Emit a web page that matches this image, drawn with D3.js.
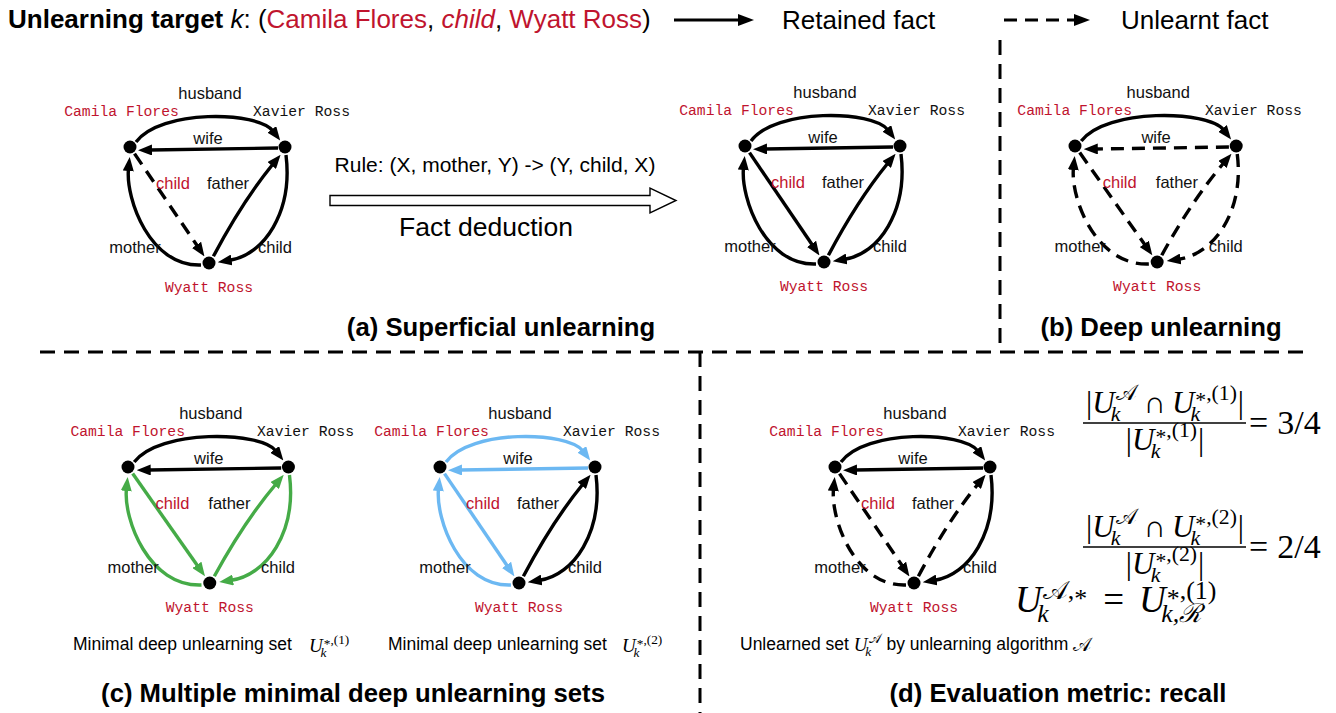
<!DOCTYPE html>
<html><head><meta charset="utf-8">
<script src="https://cdn.jsdelivr.net/npm/d3@7"></script>
<style>html,body{margin:0;padding:0;background:#fff}svg{display:block}text{white-space:pre}</style>
</head><body>
<svg id="c" width="1336" height="713"></svg>
<script>
// ---------------- data ----------------
const entities = ["Camila Flores", "Xavier Ross", "Wyatt Ross"];
const entityIsTarget = [true, false, true];
const relations = ["husband", "wife", "child", "father", "mother", "child"];
const relationIsTarget = [false, false, true, false, false, false];
const edgeSource = [0, 1, 0, 2, 2, 1];
const edgeTarget = [1, 0, 2, 1, 0, 2];
const targetTriple = ["Camila Flores", "child", "Wyatt Ross"];
// edge status per graph: R retained, U unlearnt, S1 / S2 members of minimal deep unlearning sets
const statusA1 = ["R", "R", "U", "R", "R", "R"];
const statusA2 = ["R", "R", "R", "R", "R", "R"];
const statusB  = ["R", "U", "U", "U", "U", "U"];
const statusC1 = ["R", "R", "S1", "S1", "S1", "S1"];
const statusC2 = ["S2", "S2", "S2", "R", "S2", "R"];
const statusD  = ["R", "R", "U", "U", "U", "R"];
const panelTitles = ["(a) Superficial unlearning", "(b) Deep unlearning", "(c) Multiple minimal deep unlearning sets", "(d) Evaluation metric: recall"];
const legendLabels = ["Retained fact", "Unlearnt fact"];
const ruleText = "Rule: (X, mother, Y) -> (Y, child, X)";
const deductionText = "Fact deduction";
const captionMinimal = "Minimal deep unlearning set";
const captionUnlearned = ["Unlearned set ", " by unlearning algorithm "];
const recallValues = ["3/4", "2/4"];
const setIndices = ["(1)", "(2)"];

// ---------------- style / layout ----------------
const svg = d3.select("#c");
const FS = "'Liberation Sans', Arial, Helvetica, sans-serif";
const MONO = "'Liberation Mono', 'Courier New', monospace";
const SERIF = "'Liberation Serif', 'Times New Roman', serif";
const RED = "#c0142e", GREEN = "#45ab47", BLUE = "#6cb8f2";
const statusColor = {R: "#000", U: "#000", S1: GREEN, S2: BLUE};
const statusMarker = {R: "k", U: "k", S1: "g", S2: "b"};

const defs = svg.append("defs");
[["k", "#000"], ["g", GREEN], ["b", BLUE]].forEach(([id, c]) => {
  defs.append("marker").attr("id", "ah-" + id).attr("viewBox", "0 0 14 11")
    .attr("refX", 2).attr("refY", 5.5).attr("markerWidth", 14).attr("markerHeight", 11)
    .attr("markerUnits", "userSpaceOnUse").attr("orient", "auto")
    .append("path").attr("d", "M0,0L14,5.5L0,11Z").attr("fill", c);
});
defs.append("marker").attr("id", "ah-leg").attr("viewBox", "0 0 16 12")
  .attr("refX", 2).attr("refY", 6).attr("markerWidth", 16).attr("markerHeight", 12)
  .attr("markerUnits", "userSpaceOnUse").attr("orient", "auto")
  .append("path").attr("d", "M0,0L16,6L0,12Z").attr("fill", "#000");

// node positions relative to Camila (layout)
const nodeRel = [[0, 0], [155, 0], [79, 116]];
const nameRel = [[-8.5, -31], [171.5, -31], [79, 145]];
const relLabelRel = [[80, -48], [78, -3], [43, 42], [98, 42], [5, 106], [145, 106]];
const edgeGeom = [
  {m: [6, -5], c: [[30, -38], [128, -36], [143, -16]]},
  {m: [148, 1], l: [20, 3]},
  {m: [4.5, 6.6], l: [67.7, 99.5]},
  {m: [83.4, 109.3], q: [[112, 55], [143, 17]]},
  {m: [71, 118], c: [[20, 120], [-4.5, 52], [-1.5, 22]]},
  {m: [156, 8], c: [[163, 65], [134, 108], [99.6, 113.3]]}
];
const graphs = [
  {x: 130, y: 147, sx: 1, camDx: 0, st: statusA1},
  {x: 745, y: 146, sx: 1, camDx: 0, st: statusA2},
  {x: 1075, y: 146, sx: 1.04, camDx: 8.5, st: statusB},
  {x: 128, y: 467, sx: 1.035, camDx: 8.5, st: statusC1},
  {x: 440, y: 467, sx: 1, camDx: 0, st: statusC2},
  {x: 835, y: 467, sx: 1, camDx: 0, st: statusD}
];

function drawGraph(G) {
  const xs = d3.scaleLinear().domain([0, 1]).range([G.x, G.x + G.sx]);
  const ys = d3.scaleLinear().domain([0, 1]).range([G.y, G.y + 1]);
  const g = svg.append("g");
  edgeGeom.forEach((e, i) => {
    const p = d3.path();
    p.moveTo(xs(e.m[0]), ys(e.m[1]));
    if (e.l) p.lineTo(xs(e.l[0]), ys(e.l[1]));
    if (e.q) p.quadraticCurveTo(xs(e.q[0][0]), ys(e.q[0][1]), xs(e.q[1][0]), ys(e.q[1][1]));
    if (e.c) p.bezierCurveTo(xs(e.c[0][0]), ys(e.c[0][1]), xs(e.c[1][0]), ys(e.c[1][1]), xs(e.c[2][0]), ys(e.c[2][1]));
    const s = G.st[i];
    g.append("path").attr("d", p.toString()).attr("fill", "none")
      .attr("stroke", statusColor[s]).attr("stroke-width", 3.4)
      .attr("stroke-dasharray", s === "U" ? "13,8" : null)
      .attr("marker-end", `url(#ah-${statusMarker[s]})`);
  });
  entities.forEach((n, i) => {
    g.append("circle").attr("cx", xs(nodeRel[i][0])).attr("cy", ys(nodeRel[i][1])).attr("r", 6.5).attr("fill", "#000");
    g.append("text").attr("x", xs(nameRel[i][0]) + (i === 0 ? G.camDx : 0)).attr("y", ys(nameRel[i][1]))
      .attr("text-anchor", "middle").attr("font-family", MONO).attr("font-size", 14.7)
      .attr("fill", entityIsTarget[i] ? RED : "#111").text(n);
  });
  relations.forEach((r, i) => {
    g.append("text").attr("x", xs(relLabelRel[i][0])).attr("y", ys(relLabelRel[i][1]))
      .attr("text-anchor", "middle").attr("font-family", FS).attr("font-size", 16.5)
      .attr("fill", relationIsTarget[i] ? RED : "#111").text(r);
  });
}
graphs.forEach(drawGraph);

// ---------------- title + legend ----------------
const title = svg.append("text").attr("x", 8).attr("y", 28).attr("font-family", FS).attr("font-size", 26).attr("fill", "#000");
title.append("tspan").attr("font-weight", "bold").text("Unlearning target ");
title.append("tspan").attr("font-style", "italic").text("k");
title.append("tspan").text(": (");
title.append("tspan").attr("fill", RED).text(targetTriple[0]);
title.append("tspan").text(", ");
title.append("tspan").attr("fill", RED).attr("font-style", "italic").text(targetTriple[1]);
title.append("tspan").text(", ");
title.append("tspan").attr("fill", RED).text(targetTriple[2]);
title.append("tspan").text(")");

svg.append("line").attr("x1", 674).attr("y1", 20).attr("x2", 740).attr("y2", 20)
  .attr("stroke", "#000").attr("stroke-width", 3).attr("marker-end", "url(#ah-leg)");
svg.append("text").attr("x", 782).attr("y", 29).attr("font-family", FS).attr("font-size", 26).text(legendLabels[0]);
svg.append("line").attr("x1", 1004).attr("y1", 20).attr("x2", 1076).attr("y2", 20)
  .attr("stroke", "#000").attr("stroke-width", 3).attr("stroke-dasharray", "13,8").attr("marker-end", "url(#ah-leg)");
svg.append("text").attr("x", 1121).attr("y", 29).attr("font-family", FS).attr("font-size", 26).text(legendLabels[1]);

// ---------------- rule / deduction arrow ----------------
svg.append("text").attr("x", 495).attr("y", 172).attr("text-anchor", "middle").attr("font-family", FS).attr("font-size", 21).text(ruleText);
{
  const p = d3.path();
  p.moveTo(330, 195.5); p.lineTo(650, 195.5); p.lineTo(650, 188); p.lineTo(676, 200.5);
  p.lineTo(650, 213); p.lineTo(650, 205.5); p.lineTo(330, 205.5); p.closePath();
  svg.append("path").attr("d", p.toString()).attr("fill", "#fff").attr("stroke", "#000").attr("stroke-width", 1.4);
}
svg.append("text").attr("x", 486).attr("y", 236).attr("text-anchor", "middle").attr("font-family", FS).attr("font-size", 26.5).text(deductionText);

// ---------------- separators ----------------
function dline(x1, y1, x2, y2) {
  svg.append("line").attr("x1", x1).attr("y1", y1).attr("x2", x2).attr("y2", y2)
    .attr("stroke", "#000").attr("stroke-width", 3).attr("stroke-dasharray", "15,9");
}
dline(40, 352, 1312, 352);
dline(1000, 40, 1000, 352);
dline(700, 352, 700, 713);

// ---------------- panel titles ----------------
const titlePos = [[501, 336], [1161, 336], [353, 702], [1058, 702]];
panelTitles.forEach((t, i) => {
  svg.append("text").attr("x", titlePos[i][0]).attr("y", titlePos[i][1]).attr("text-anchor", "middle")
    .attr("font-family", FS).attr("font-weight", "bold").attr("font-size", 25.7).text(t);
});

// ---------------- math helper ----------------
function scriptText(t, str, ss) {
  const pieces = str.split(/(\*)/).filter(d => d !== "");
  let shifted = false;
  pieces.forEach(pc => {
    if (pc === "*") {
      t.append("tspan").attr("dy", shifted ? 0 : ss * 0.32).text("*");
      shifted = true;
    } else {
      t.append("tspan").attr("dy", shifted ? -ss * 0.32 : 0).text(pc);
      shifted = false;
    }
  });
}
function mathText(x, y, parts, size, anchor, supRaise) {
  const g = svg.append("g").attr("font-family", SERIF).attr("fill", "#000");
  const raise = supRaise || 0.42;
  let cx = 0;
  for (const p of parts) {
    if (p.s !== undefined) {
      cx += p.lp || 0;
      const t = g.append("text").attr("x", cx).attr("y", 0).attr("font-size", size)
        .attr("font-style", p.i ? "italic" : "normal").text(p.s);
      cx += t.node().getComputedTextLength() + (p.rp || 0);
    } else {
      let w = 0;
      const ss = size * 0.7;
      if (p.sup) {
        const t = g.append("text").attr("x", cx + 1).attr("y", -size * raise).attr("font-size", ss)
          .attr("font-style", p.supI ? "italic" : "normal");
        scriptText(t, p.sup, ss);
        w = Math.max(w, t.node().getComputedTextLength() + 1);
      }
      if (p.sub) {
        const t = g.append("text").attr("x", cx - size * 0.12).attr("y", size * 0.27).attr("font-size", ss)
          .attr("font-style", "italic").text(p.sub);
        w = Math.max(w, t.node().getComputedTextLength() - size * 0.12);
      }
      cx += w + 1;
    }
  }
  const dx = anchor === "middle" ? -cx / 2 : anchor === "end" ? -cx : 0;
  g.attr("transform", `translate(${x + dx},${y})`);
  return cx;
}
const CALA = "\u{1D49C}", CALR = "\u211B";

// captions
svg.append("text").attr("x", 73).attr("y", 650).attr("font-family", FS).attr("font-size", 17.5).text(captionMinimal);
mathText(309, 652, [{s: "U", i: 1}, {sup: "*," + setIndices[0], sub: "k"}], 19);
svg.append("text").attr("x", 388).attr("y", 650).attr("font-family", FS).attr("font-size", 17.5).text(captionMinimal);
mathText(622, 652, [{s: "U", i: 1}, {sup: "*," + setIndices[1], sub: "k"}], 19);
{
  const t = svg.append("text").attr("x", 740).attr("y", 650).attr("font-family", FS).attr("font-size", 17.5).text(captionUnlearned[0]);
  let x = 740 + t.node().getComputedTextLength();
  x += mathText(x, 651, [{s: "U", i: 1}, {sup: CALA, sub: "k"}], 19);
  const t2 = svg.append("text").attr("x", x).attr("y", 650).attr("font-family", FS).attr("font-size", 17.5).text(captionUnlearned[1]);
  x += t2.node().getComputedTextLength();
  mathText(x, 651, [{s: CALA}], 19);
}

// recall fractions
const fracY = [423, 547];
fracY.forEach((fy, i) => {
  const num = [{s: "|"}, {s: "U", i: 1}, {sup: CALA, sub: "k"}, {s: "\u2229", lp: 6, rp: 6}, {s: "U", i: 1}, {sup: "*," + setIndices[i], sub: "k"}, {s: "|"}];
  const den = [{s: "|"}, {s: "U", i: 1}, {sup: "*," + setIndices[i], sub: "k"}, {s: "|"}];
  mathText(1165, fy - 10, num, 31, "middle");
  mathText(1165, fy + 27, den, 31, "middle");
  svg.append("line").attr("x1", 1083).attr("x2", 1246).attr("y1", fy).attr("y2", fy).attr("stroke", "#000").attr("stroke-width", 1.3);
  mathText(1249, fy + 11, [{s: "=", rp: 9}, {s: recallValues[i]}], 34);
});
mathText(1015, 612, [{s: "U", i: 1}, {sup: CALA + ",*", sub: "k"}, {s: "=", lp: 15, rp: 15}, {s: "U", i: 1}, {sup: "*," + setIndices[0], sub: "k," + CALR}], 37, null, 0.36);
</script>
</body></html>
